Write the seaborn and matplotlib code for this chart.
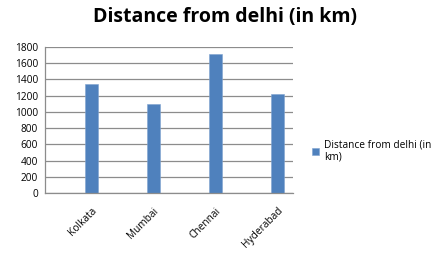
import matplotlib
matplotlib.use("Agg")
import matplotlib.pyplot as plt
import seaborn as sns
import pandas as pd
import numpy as np

cities = ["Kolkata", "Mumbai", "Chennai", "Hyderabad"]
distances = [1340, 1100, 1710, 1220]
series_name = "Distance from delhi (in km)"
yticks = [0, 200, 400, 600, 800, 1000, 1200, 1400, 1600, 1800]

# Excel sheet had blank rows between cities -> empty category slots
slots, vals = [], []
for i, (c, v) in enumerate(zip(cities, distances)):
    slots.append(f"_gap{i}")
    vals.append(np.nan)
    slots.append(c)
    vals.append(v)
df = pd.DataFrame({"slot": slots, "value": vals, "series": series_name})

sns.set_style("white")
plt.rcParams["font.family"] = ["Open Sans", "DejaVu Sans"]
plt.rcParams["text.color"] = "black"
plt.rcParams["xtick.labelcolor"] = "black"
plt.rcParams["ytick.labelcolor"] = "black"

fig = plt.figure(figsize=(4.48, 2.57), dpi=100)
ax = fig.add_axes([45/448, 1 - 193/257, (293-45)/448, (193-47)/257])

sns.barplot(data=df, x="slot", y="value", hue="series", order=slots,
            palette=["#4F81BD"], width=0.41, ax=ax, saturation=1,
            edgecolor="#7FA3D0", linewidth=0.4)

ax.set_ylim(0, 1800)
ax.set_xlim(-0.5, len(slots) - 0.5)
ax.set_yticks(yticks)
ax.set_yticklabels([str(t) for t in yticks], fontsize=7.3, color="black")
ax.yaxis.grid(True, color="#8C8C8C", linewidth=0.9)
ax.set_axisbelow(True)
ax.tick_params(axis="y", length=4, color="#8C8C8C", pad=1, width=0.9)

# boundary tick marks (major, unlabeled) and category labels (minor)
ax.set_xticks(np.arange(-0.5, len(slots), 1.0))
ax.set_xticklabels([])
ax.tick_params(axis="x", which="major", length=4, color="#8C8C8C", width=0.9)
label_pos = [i for i, s in enumerate(slots) if not s.startswith("_gap")]
ax.set_xticks(label_pos, minor=True)
ax.set_xticklabels(cities, minor=True, rotation=45, ha="right",
                   rotation_mode="anchor", fontsize=7.3, color="black")
ax.tick_params(axis="x", which="minor", length=0, pad=9)

for s in ["top", "right"]:
    ax.spines[s].set_visible(False)
for s in ["left", "bottom"]:
    ax.spines[s].set_color("#8C8C8C")
    ax.spines[s].set_linewidth(0.9)

ax.set_xlabel("")
ax.set_ylabel("")

handles, _ = ax.get_legend_handles_labels()
ax.legend(handles, ["Distance from delhi (in\nkm)"], loc="upper left",
          bbox_to_anchor=(308/448, 1 - 135/257), bbox_transform=fig.transFigure,
          frameon=False, fontsize=7.3, handlelength=0.7, handleheight=0.7,
          handletextpad=0.5, borderaxespad=0, labelcolor="black")

fig.text(225/448, 1 - 17/257, "Distance from delhi (in km)", ha="center",
         va="center", fontsize=14, fontweight="bold", color="black")

fig.savefig("out.png", dpi=100, facecolor="white")
